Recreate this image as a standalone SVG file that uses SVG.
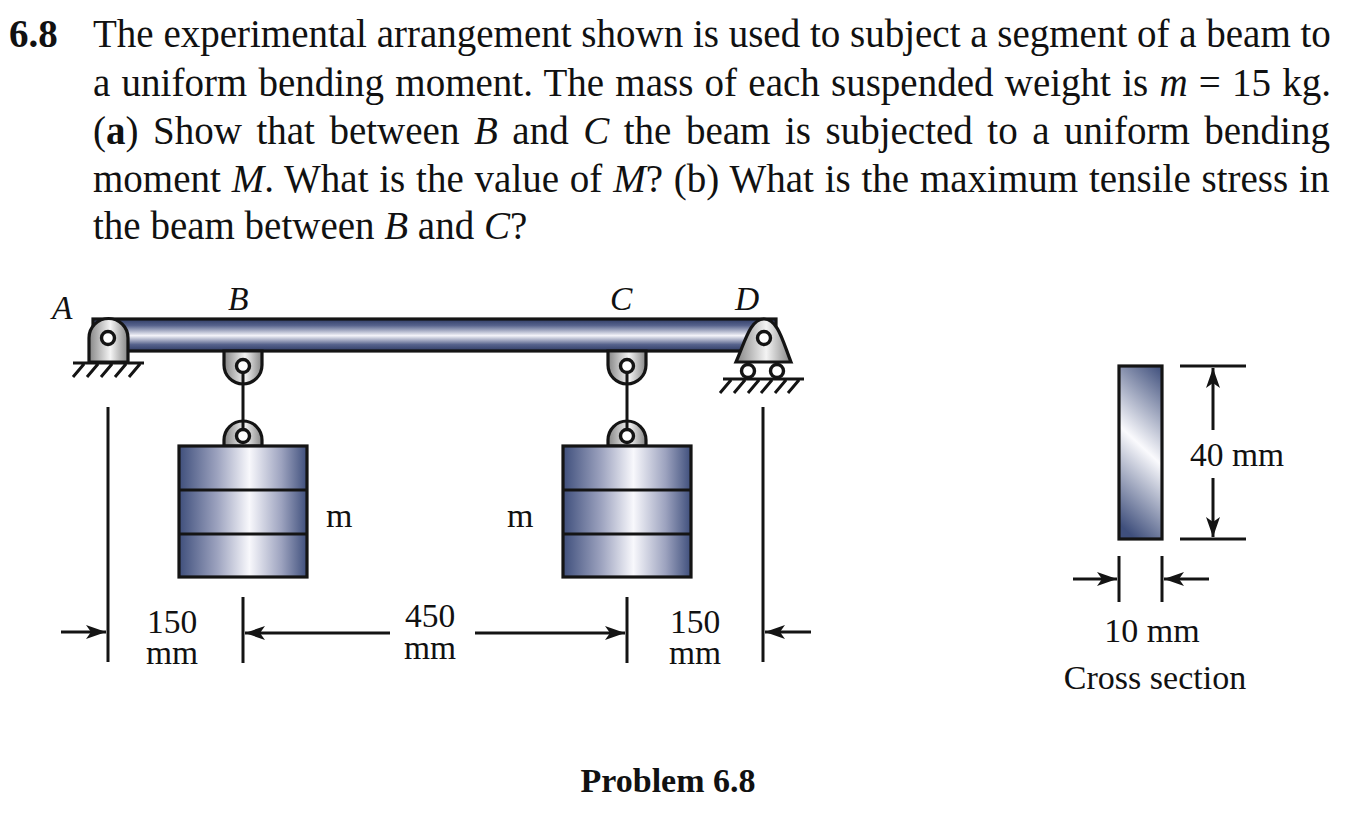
<svg xmlns="http://www.w3.org/2000/svg" width="1350" height="825" viewBox="0 0 1350 825">
<style>
text{font-family:"Liberation Serif","Times New Roman",serif;font-size:33.500px;fill:#111}
.t{font-size:39px}
.b{font-weight:bold}.i{font-style:italic}
.d{text-anchor:middle}
.w{font-size:34px}
.l{stroke:#141414;stroke-width:3;fill:none}
.o{stroke:#141414;stroke-width:3.200}
.h{stroke:#141414;stroke-width:3;fill:none}
.p{fill:#fff;stroke:#141414;stroke-width:3.400}
</style>
<defs>
<linearGradient id="beam" x1="0" y1="0" x2="0" y2="1"><stop offset="0" stop-color="#2f3c66"/><stop offset=".2" stop-color="#56628c"/><stop offset=".52" stop-color="#f4f4fa"/><stop offset=".8" stop-color="#56628c"/><stop offset="1" stop-color="#2f3c66"/></linearGradient>
<linearGradient id="wt" x1="0" y1="0" x2="1" y2="0"><stop offset="0" stop-color="#3f4f7c"/><stop offset=".3" stop-color="#9da3bf"/><stop offset=".55" stop-color="#f8f8fc"/><stop offset=".8" stop-color="#9da3bf"/><stop offset="1" stop-color="#3f4f7c"/></linearGradient>
<linearGradient id="steel" x1="0" y1="0" x2="1" y2="0"><stop offset="0" stop-color="#858585"/><stop offset=".55" stop-color="#f4f4f4"/><stop offset="1" stop-color="#858585"/></linearGradient>
<linearGradient id="sec" gradientUnits="userSpaceOnUse" x1="1091" y1="498" x2="1189" y2="392"><stop offset="0" stop-color="#3f4f7c"/><stop offset=".5" stop-color="#fafafd"/><stop offset="1" stop-color="#3f4f7c"/></linearGradient>
<marker id="ar" markerWidth="21" markerHeight="16" refX="20" refY="8" orient="auto-start-reverse" markerUnits="userSpaceOnUse"><path d="M0 1L20 8L0 15L5 8Z" fill="#141414"/></marker>
<g id="weightShape">
<path d="M-19 0V-6A19 19 0 0 1 19 -6V0Z" fill="url(#steel)" class="o"/>
<circle cy="-10" r="6.500" class="p"/>
<rect x="-64" y="0" width="128" height="131" fill="url(#wt)" class="o"/>
<path d="M-64 44H64M-64 88H64" class="o"/>
</g>
<path id="hanger" d="M-19 0V14A19 19 0 0 0 19 14V0Z" fill="url(#steel)" class="o"/>
</defs>

<g id="problem-text">
<text x="9" y="47" class="t b">6.8</text>
<text x="93" y="47" class="t">The experimental arrangement shown is used to subject a segment of a beam to</text>
<text x="93" y="96" class="t" word-spacing="1.500">a uniform bending moment. The mass of each suspended weight is <tspan class="i">m</tspan> = 15 kg.</text>
<text x="93" y="144" class="t" word-spacing="4.800">(<tspan class="b">a</tspan>) Show that between <tspan class="i">B</tspan> and <tspan class="i">C</tspan> the beam is subjected to a uniform bending</text>
<text x="93" y="192" class="t" word-spacing="1.070">moment <tspan class="i">M</tspan>. What is the value of <tspan class="i">M</tspan>? (b) What is the maximum tensile stress in</text>
<text x="93" y="239" class="t">the beam between <tspan class="i">B</tspan> and <tspan class="i">C</tspan>?</text>
</g>

<g id="beam-node"><rect x="93" y="319" width="683" height="32" fill="url(#beam)" class="o"/></g>

<g id="support-A">
<path d="M89 362V338A19.500 19.500 0 0 1 128 338V362Z" fill="url(#steel)" class="o"/>
<circle cx="108" cy="338" r="6.500" class="p"/>
<path d="M73 363H144M73 377L84 364M87 377L98 364M101 377L112 364M115 377L126 364M129 377L140 364" class="h"/>
<text x="52" y="319" class="i">A</text>
</g>
<g id="hanger-B"><use href="#hanger" x="243" y="351"/><circle cx="243" cy="366" r="6.500" class="p"/><text x="228" y="310" class="i">B</text></g>
<g id="hanger-C"><use href="#hanger" x="627" y="351"/><circle cx="627" cy="366" r="6.500" class="p"/><text x="610" y="310" class="i">C</text></g>
<g id="support-D">
<path d="M736 362C745 342 750 319 764 319C778 319 783 342 791 362Z" fill="url(#steel)" class="o"/>
<circle cx="764" cy="338" r="6.500" class="p"/>
<circle cx="748" cy="371" r="6.500" class="p"/><circle cx="777" cy="371" r="6.500" class="p"/>
<path d="M723 379H804M720 393L731 380M734 393L745 380M748 393L759 380M761 393L772 380M775 393L786 380M788 393L799 380" class="h"/>
<text x="735" y="310" class="i">D</text>
</g>
<g id="weight-left"><use href="#weightShape" x="243" y="446"/><text x="326" y="527" class="w">m</text></g>
<g id="weight-right"><use href="#weightShape" x="627" y="446"/><text x="507" y="527" class="w">m</text></g>

<g id="connectors">
<path d="M243 373V429M627 373V429" class="l"/>
<path d="M108 407V662M243 597V663M627 597V663M763 407V662" class="l"/>
<path d="M61 632H106" class="l" marker-end="url(#ar)"/>
<path d="M245 633H390" class="l" marker-start="url(#ar)"/>
<path d="M475 633H625" class="l" marker-end="url(#ar)"/>
<path d="M765 632H811" class="l" marker-start="url(#ar)"/>
<path d="M1180 366H1246M1180 539H1246" class="l"/>
<path d="M1213 430V368" class="l" marker-end="url(#ar)"/>
<path d="M1213 478V537" class="l" marker-end="url(#ar)"/>
<path d="M1119 556V602M1162 556V602" class="l"/>
<path d="M1073 579H1117" class="l" marker-end="url(#ar)"/>
<path d="M1209 579H1164" class="l" marker-end="url(#ar)"/>
</g>

<g id="cross-section"><rect x="1119" y="366" width="43" height="173" fill="url(#sec)" class="o"/></g>

<g id="labels">
<text x="172" y="633" class="d">150</text><text x="172" y="664" class="d">mm</text>
<text x="430" y="627" class="d">450</text><text x="430" y="659" class="d">mm</text>
<text x="695" y="633" class="d">150</text><text x="695" y="664" class="d">mm</text>
<text x="1237" y="466" class="d">40 mm</text>
<text x="1152" y="642" class="d w">10 mm</text>
<text x="1155" y="689" class="d w">Cross section</text>
<text x="668" y="792" class="b d w">Problem 6.8</text>
</g>
</svg>
